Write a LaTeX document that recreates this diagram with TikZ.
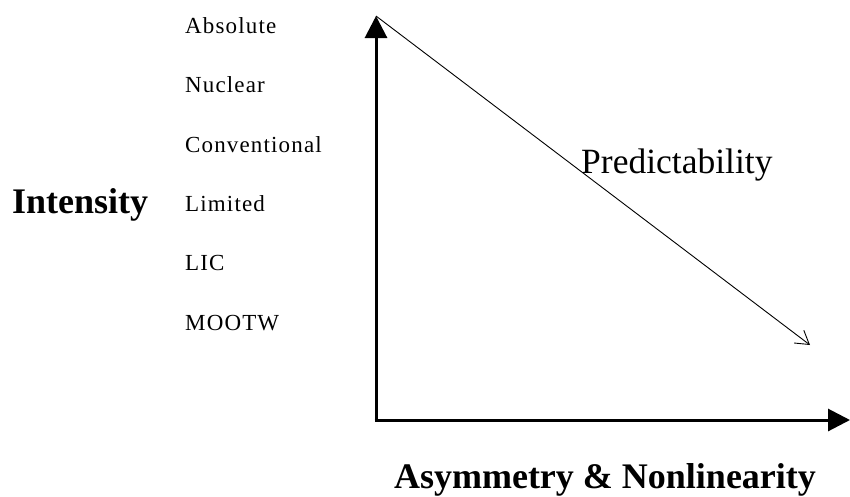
\documentclass[tikz,border=0pt]{standalone}
\usepackage{fontspec}
\setmainfont{Liberation Serif}
\newfontfamily\lblfont[LetterSpace=5]{Liberation Serif}
\usetikzlibrary{arrows.meta}
\begin{document}
\begin{tikzpicture}[x=1pt,y=-1pt,
  lvl/.style={anchor=base west,inner sep=0pt,font=\lblfont\fontsize{23}{25}\selectfont},
  big/.style={inner sep=0pt,font=\fontsize{35}{38}\selectfont},
  axis/.style={line width=3pt,-{Triangle[width=22pt,length=22pt]}},
  trend/.style={line width=0.9pt,-{Straight Barb[length=13pt,width=16pt,line width=0.9pt]}}]
\useasboundingbox (0,0) rectangle (850,496);
\coordinate (O) at (376,420);
\coordinate (Ytop) at (376,16);
\coordinate (Xend) at (850,420);
\coordinate (Dend) at (810,345);
\draw[axis] (O) -- (Ytop);
\draw[axis] ([xshift=-1.5pt]O) -- (Xend);
\draw[trend] (Ytop) -- (Dend);
\node[lvl] (abs) at (185,33) {Absolute};
\node[lvl] (nuc) at (185,92) {Nuclear};
\node[lvl] (con) at (185,152) {Conventional};
\node[lvl] (lim) at (185,211) {Limited};
\node[lvl] (lic) at (185,270) {LIC};
\node[lvl] (moo) at (185,330) {MOOTW};
\node[big,anchor=base west,font=\fontsize{36}{38}\selectfont\bfseries] (int) at (12,213) {Intensity};
\node[big,anchor=base west,font=\fontsize{35.5}{38}\selectfont] (pred) at (581,173) {Predictability};
\node[big,anchor=base,font=\fontsize{36}{38}\selectfont\bfseries] (asym) at (605,488) {Asymmetry \& Nonlinearity};
\end{tikzpicture}
\end{document}
